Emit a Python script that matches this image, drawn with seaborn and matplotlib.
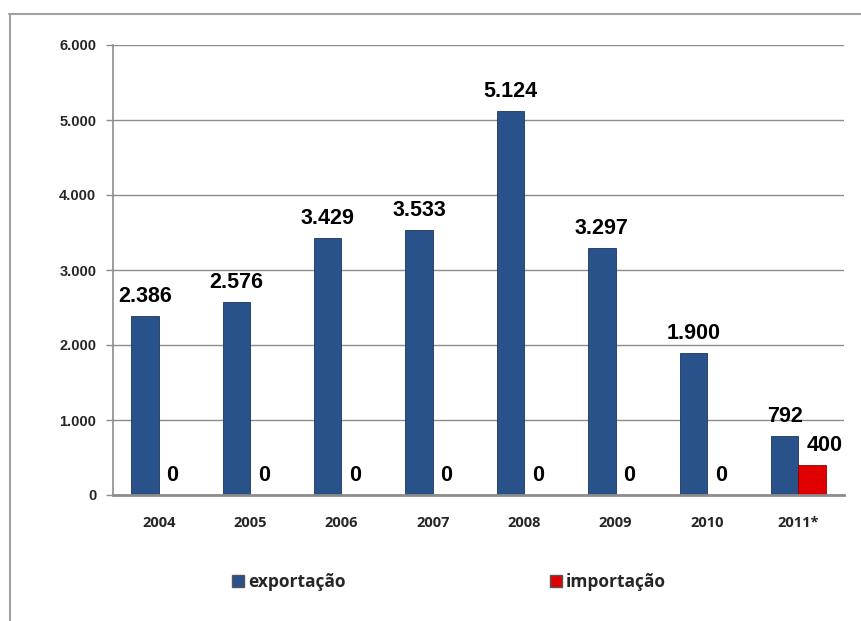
import matplotlib
matplotlib.use("Agg")
import matplotlib.pyplot as plt
import seaborn as sns
import pandas as pd
from matplotlib.lines import Line2D
from matplotlib.ticker import FuncFormatter

years = ["2004", "2005", "2006", "2007", "2008", "2009", "2010", "2011*"]
exportacao = [2386, 2576, 3429, 3533, 5124, 3297, 1900, 792]
importacao = [0, 0, 0, 0, 0, 0, 0, 400]
series_names = ["exportação", "importação"]
yticks = [0, 1000, 2000, 3000, 4000, 5000, 6000]

df = pd.DataFrame({
    "ano": years * 2,
    "valor": exportacao + importacao,
    "serie": [series_names[0]] * len(years) + [series_names[1]] * len(years),
})

sns.set_theme(style="white")
plt.rcParams["font.family"] = ["Liberation Sans", "DejaVu Sans"]

fig = plt.figure(figsize=(8.61, 6.21), dpi=100)
ax = fig.add_axes([113 / 861, 1 - 495 / 621, (844 - 113) / 861, (495 - 45) / 621])

palette = {series_names[0]: "#2A528A", series_names[1]: "#E00000"}
sns.barplot(data=df, x="ano", y="valor", hue="serie", palette=palette,
            width=0.6, saturation=1, ax=ax, legend=True)

edge = {0: "#1B3560", 1: "#900000"}
for i, cont in enumerate(ax.containers):
    for bar in cont:
        bar.set_edgecolor(edge[i])
        bar.set_linewidth(0.6)
    vals = exportacao if i == 0 else importacao
    for bar, v in zip(cont, vals):
        dx = 9 if (i == 1 and v > 0) else 0
        ax.annotate(f"{v:,}".replace(",", "."),
                    (bar.get_x() + bar.get_width() / 2, bar.get_height()),
                    xytext=(dx, 14), textcoords="offset points",
                    ha="center", va="center", fontsize=15.5,
                    fontweight="bold", color="#000000")

ax.set_ylim(0, 6000)
ax.set_yticks(yticks)
ax.yaxis.set_major_formatter(FuncFormatter(lambda v, p: f"{int(v):,}".replace(",", ".")))
ax.set_xlim(-0.5, len(years) - 0.5)
ax.set_xlabel("")
ax.set_ylabel("")

ax.grid(axis="y", color="#8C8C8C", linewidth=1.0)
ax.set_axisbelow(True)
for s in ["top", "right"]:
    ax.spines[s].set_visible(False)
ax.spines["left"].set_color("#8C8C8C")
ax.spines["left"].set_linewidth(1.2)
ax.spines["bottom"].set_color("#8C8C8C")
ax.spines["bottom"].set_linewidth(2.0)

ax.tick_params(axis="y", which="both", left=True, length=5, width=1,
               color="#8C8C8C", pad=7, labelsize=10.5)
ax.tick_params(axis="x", bottom=False, pad=9)
for lab in ax.get_yticklabels():
    lab.set_fontweight("bold")
for lab in ax.get_xticklabels():
    lab.set_fontweight("bold")
    lab.set_fontfamily(["Open Sans", "DejaVu Sans"])
    lab.set_fontsize(10.5)

handles, labels = ax.get_legend_handles_labels()
ax.get_legend().remove()
leg = fig.legend(handles, labels, loc="center", ncol=2,
                 bbox_to_anchor=(449 / 861, 1 - 582 / 621), frameon=False,
                 handlelength=0.7, handleheight=0.7, handletextpad=0.2,
                 columnspacing=11.8,
                 prop={"family": ["Open Sans", "DejaVu Sans"], "weight": "bold", "size": 12.5})
for h in leg.legend_handles:
    h.set_edgecolor("#555555")

fig.add_artist(Line2D([9 / 861, 1], [1 - 14 / 621, 1 - 14 / 621], transform=fig.transFigure,
                      color="#A0A0A0", linewidth=1.5))
fig.add_artist(Line2D([10 / 861, 10 / 861], [0, 1 - 14 / 621], transform=fig.transFigure,
                      color="#A0A0A0", linewidth=1.5))

fig.savefig("out.png", dpi=100)
